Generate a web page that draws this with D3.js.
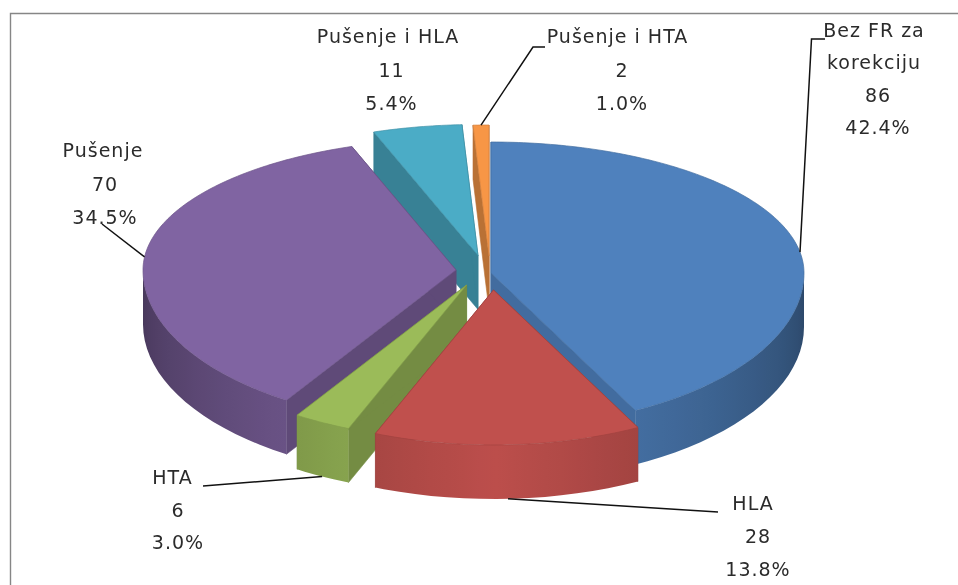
<!DOCTYPE html>
<html><head><meta charset="utf-8">
<style>html,body{margin:0;padding:0;background:#fff;overflow:hidden}svg{display:block}
text{font-family:"DejaVu Sans",sans-serif;font-size:19px;letter-spacing:1px;fill:#2b2b2b;text-anchor:middle;filter:blur(.4px)}</style>
<script src="https://cdn.jsdelivr.net/npm/d3@7/dist/d3.min.js"></script>
</head><body><svg id="c" width="958" height="585"></svg>
<script>
// ---- data
const categories = ["Bez FR za korekciju","HLA","HTA","Pušenje","Pušenje i HLA","Pušenje i HTA"];
const values = [86,28,6,70,11,2];
const colors = ["#4f81bd","#c0504d","#9bbb59","#8064a2","#4bacc6","#f79646"];
const labelLines = [["Bez FR za","korekciju"],["HLA"],["HTA"],["Pušenje"],["Pušenje i HLA"],["Pušenje i HTA"]];
// ---- layout
const W=958,H=585,RX=313,RY_BACK=131,RY_FRONT=155,DEPTH=54;
const apexes=[[491,273],[493.5,290],[466.6,285],[456,270],[478,255.5],[489,256]];
const labelPos=[[878,37,32.3],[758,510,33.2],[178,484,32.5],[105,157,33.5],[391.5,43,33.5],[622,43,33.5]];
const nameDx=[-4,-5,-5.5,-2,-3.5,-4.5];
const leaderFrac=[.53,.5,.5,.5,.5,.5];
const leaderTail=[[[811.5,39],[825,39]],[[718,512]],[[203,486]],[[102,224]],null,[[533,47],[545,47]]];
const paint=[4,5,3,0,2,1];

const svg=d3.select("#c");
const defs=svg.append("defs");
const total=d3.sum(values);
const arcs=d3.pie().sort(null).value(d=>d)(values);
const sx=d3.scaleLinear().domain([-1,1]).range([-RX,RX]);
const syBack=d3.scaleLinear().domain([0,1]).range([0,-RY_BACK]);
const syFront=d3.scaleLinear().domain([-1,0]).range([RY_FRONT,0]);
const shade=d3.scaleLinear().domain([Math.PI/2,Math.PI,Math.PI*1.5]).range([.55,.98,.55]).clamp(true);
const line=d3.line();
const warp=a=>a>Math.PI*1.5?a-(5*Math.PI/180)*Math.sin(2*a):a;
function rim(i,a,drop=0){const w=warp(a),c=apexes[i],cw=Math.cos(w);return [c[0]+sx(Math.sin(w)),c[1]+(cw>0?syBack(cw):syFront(cw))+drop];}
function apex(i,drop=0){const c=apexes[i];return [c[0],c[1]+drop];}
const dark=(col,k)=>{const c=d3.rgb(col);return d3.rgb(c.r*k,c.g*k,c.b*k).formatHex();};

svg.append("path").attr("d",line([[10.5,H],[10.5,13.5],[W,13.5]])).attr("fill","none").attr("stroke","#868686").attr("stroke-width",1.4);

const order=paint.map(i=>arcs[i]);
const G=svg.selectAll("g.slice").data(order).join("g").attr("class","slice");
G.each(function(d){
  const i=d.index,g=d3.select(this),col=colors[i];
  const wallK=i===0?.84:i===3?.74:.75;
  // cut walls
  [d.startAngle,d.endAngle].forEach(a=>{
    g.append("path").attr("d",line([apex(i),rim(i,a),rim(i,a,DEPTH),apex(i,DEPTH)])+"Z")
     .attr("fill",dark(col,wallK)).attr("stroke",dark(col,wallK)).attr("stroke-width",.6);
  });
  // outer side with a horizontal shading ramp
  const lo=Math.max(d.startAngle,Math.PI/2),hi=Math.min(d.endAngle,Math.PI*1.5);
  if(hi>lo){
    const st=d3.range(lo,hi,Math.PI/60).concat([hi]);
    const x0=rim(i,lo)[0],x1=rim(i,hi)[0];
    const off=d3.scaleLinear().domain([x0,x1]).range([0,1]);
    const grad=defs.append("linearGradient").attr("id","side"+i).attr("gradientUnits","userSpaceOnUse")
      .attr("x1",x0).attr("x2",x1).attr("y1",0).attr("y2",0);
    st.forEach(a=>grad.append("stop").attr("offset",off(rim(i,a)[0])).attr("stop-color",dark(col,shade(a))));
    const top=st.map(a=>rim(i,a)),bot=st.map(a=>rim(i,a,DEPTH)).reverse();
    g.append("path").attr("d",line(top.concat(bot))+"Z").attr("fill",`url(#side${i})`);
  }
  // top face
  const pts=[apex(i)].concat(d3.range(d.startAngle,d.endAngle,Math.PI/180).concat([d.endAngle]).map(a=>rim(i,a)));
  g.append("path").attr("d",line(pts)+"Z").attr("fill",col).attr("stroke",dark(col,.85)).attr("stroke-width",.7);
});

// leaders
arcs.forEach((d,i)=>{
  if(!leaderTail[i])return;
  const m=d.startAngle+(d.endAngle-d.startAngle)*leaderFrac[i];
  const s=rim(i,m,Math.cos(m)<0?DEPTH:0);
  svg.append("path").attr("d",line([s].concat(leaderTail[i]))).attr("fill","none").attr("stroke","#111").attr("stroke-width",1.5);
});
// labels
arcs.forEach((d,i)=>{
  const [x,y,lh]=labelPos[i],names=labelLines[i];
  const lines=names.concat([String(values[i]),(values[i]/total*100).toFixed(1)+"%"]);
  const t=svg.append("text");
  lines.forEach((s,j)=>t.append("tspan").attr("x",x+(j<names.length?nameDx[i]:0)).attr("y",y+j*lh).text(s));
});
</script></body></html>
